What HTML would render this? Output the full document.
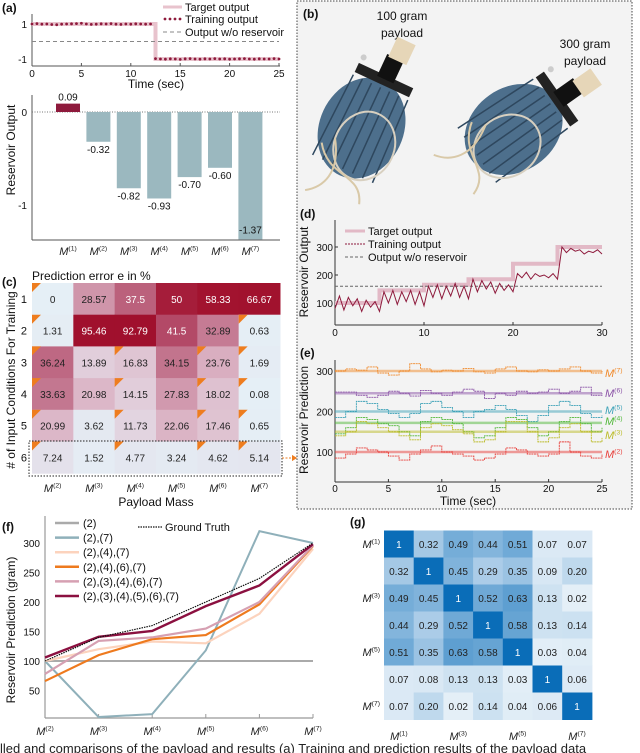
<!DOCTYPE html>
<html><head><meta charset="utf-8"><style>
html,body{margin:0;padding:0;background:#fff;}
svg{display:block;font-family:"Liberation Sans",sans-serif;}
</style></head><body>
<svg id="fig" width="640" height="753" viewBox="0 0 640 753" xmlns="http://www.w3.org/2000/svg"></svg>
<script>
// ---------- DATA ----------
const aTrainVals = [1.0,1.02,0.99,1.0,0.97,0.96,0.99,1.0,1.01,1.02,1.04,1.0,0.98,0.99,1.01,1.0,1.02,0.99,0.98,1.0,0.99,1.01,1.0,0.99,1.0,-0.98,-1.0,-1.01,-0.99,-1.0,-1.02,-0.99,-0.98,-1.0,-1.01,-0.99,-1.0,-0.98,-1.0,-0.99,-1.01,-1.0,-0.99,-0.98,-1.0,-1.01,-0.99,-1.0,-1.0,-0.98,-1.0];
const aStepTime = 12.5;
const aXTicks = [0,5,10,15,20,25];
const barCats = ["(1)","(2)","(3)","(4)","(5)","(6)","(7)"];
const barVals = [0.09,-0.32,-0.82,-0.93,-0.70,-0.60,-1.37];
const barLabels = ["0.09","-0.32","-0.82","-0.93","-0.70","-0.60","-1.37"];
const cCols = ["(2)","(3)","(4)","(5)","(6)","(7)"];
const cRows = ["1","2","3","4","5","6"];
const cVals = [
 [0,28.57,37.5,50,58.33,66.67],
 [1.31,95.46,92.79,41.5,32.89,0.63],
 [36.24,13.89,16.83,34.15,23.76,1.69],
 [33.63,20.98,14.15,27.83,18.02,0.08],
 [20.99,3.62,11.73,22.06,17.46,0.65],
 [7.24,1.52,4.77,3.24,4.62,5.14]];
const cTrain = [
 [1,0,0,0,0,0],[1,0,0,0,0,1],[1,0,1,0,1,1],[1,0,1,0,1,1],[1,0,1,0,1,1],[1,0,1,0,1,1]];
const dTargetEdges = [0,5,10,15,20,25,30];
const dTargetLevels = [100,145,165,185,240,300];
const dTrain = [80,125,75,120,90,115,70,110,85,105,70,140,100,145,95,140,105,145,95,140,90,160,120,165,115,160,125,170,120,160,115,185,140,180,150,175,135,170,145,165,140,205,190,210,185,205,195,200,190,205,185,300,280,295,285,290,275,285,280,290,275];
const dNoRes = 160;
const dXTicks = [0,10,20,30];
const dYTicks = [100,200,300];
const eNames = ["(7)","(6)","(5)","(4)","(3)","(2)"];
const eTargets = [300,245,200,172,150,100];
const eSeries = [
 [300,305,302,310,295,290,300,318,305,298,302,300,306,298,295,305,310,300,298,303,300,305,310,300,295,300],
 [248,248,240,235,240,250,245,238,252,245,240,248,255,250,232,245,240,250,245,248,255,245,250,260,240,245],
 [185,200,225,220,205,195,185,195,220,225,210,200,185,200,205,215,205,190,175,190,215,225,215,195,185,190],
 [145,160,185,180,170,165,150,140,175,185,180,170,150,135,140,160,185,180,160,140,150,175,185,170,150,160],
 [140,150,175,170,160,150,140,130,160,170,165,155,145,125,130,150,175,175,150,125,135,160,170,150,125,135],
 [85,95,110,105,100,90,80,95,105,115,100,95,90,80,85,95,110,105,95,90,95,125,100,90,85,95]];
const eXTicks = [0,5,10,15,20,25];
const eYTicks = [100,200,300];
const fCats = ["(2)","(3)","(4)","(5)","(6)","(7)"];
const fNames = ["(2)","(2),(7)","(2),(4),(7)","(2),(4),(6),(7)","(2),(3),(4),(6),(7)","(2),(3),(4),(5),(6),(7)"];
const fSeries = [
 [100,100,100,100,100,100],
 [100,5,10,118,320,300],
 [100,120,133,130,180,290],
 [66,110,137,144,196,295],
 [78,134,140,155,200,296],
 [106,141,151,193,228,298]];
const fTruth = [100,140,160,200,240,300];
const fYTicks = [50,100,150,200,250,300];
const gLabels = ["(1)","(2)","(3)","(4)","(5)","(6)","(7)"];
const gVals = [
 [1,0.32,0.49,0.44,0.51,0.07,0.07],
 [0.32,1,0.45,0.29,0.35,0.09,0.20],
 [0.49,0.45,1,0.52,0.63,0.13,0.02],
 [0.44,0.29,0.52,1,0.58,0.13,0.14],
 [0.51,0.35,0.63,0.58,1,0.03,0.04],
 [0.07,0.08,0.13,0.13,0.03,1,0.06],
 [0.07,0.20,0.02,0.14,0.04,0.06,1]];
const gText = [
 ["1","0.32","0.49","0.44","0.51","0.07","0.07"],
 ["0.32","1","0.45","0.29","0.35","0.09","0.20"],
 ["0.49","0.45","1","0.52","0.63","0.13","0.02"],
 ["0.44","0.29","0.52","1","0.58","0.13","0.14"],
 ["0.51","0.35","0.63","0.58","1","0.03","0.04"],
 ["0.07","0.08","0.13","0.13","0.03","1","0.06"],
 ["0.07","0.20","0.02","0.14","0.04","0.06","1"]];

// ---------- HELPERS ----------
const NS="http://www.w3.org/2000/svg";
const svg=document.getElementById('fig');
function mk(tag,attrs,parent){const e=document.createElementNS(NS,tag);for(const k in attrs)e.setAttribute(k,attrs[k]);(parent||svg).appendChild(e);return e;}
function txt(x,y,s,size,anchor,parent,extra){const e=mk('text',Object.assign({x:x,y:y,'font-size':size,'text-anchor':anchor||'start',fill:'#111'},extra||{}),parent);e.textContent=s;return e;}
function mlabel(x,y,sup,size,anchor,parent){const e=mk('text',{x:x,y:y,'font-size':size,'text-anchor':anchor||'middle',fill:'#222'},parent);
 const m=document.createElementNS(NS,'tspan');m.setAttribute('font-style','italic');m.textContent='M';e.appendChild(m);
 const s=document.createElementNS(NS,'tspan');s.setAttribute('dy',-size*0.4);s.setAttribute('font-size',size*0.62);s.textContent=sup;e.appendChild(s);return e;}
function lerpC(c1,c2,t){const a=[1,3,5].map(i=>parseInt(c1.substr(i,2),16)),b=[1,3,5].map(i=>parseInt(c2.substr(i,2),16));return 'rgb('+a.map((v,i)=>Math.round(v+(b[i]-v)*t)).join(',')+')';}
function scaleColor(v,stops){for(let i=0;i<stops.length-1;i++){if(v<=stops[i+1][0]){return lerpC(stops[i][1],stops[i+1][1],(v-stops[i][0])/(stops[i+1][0]-stops[i][0]));}}return stops[stops.length-1][1];}

// ---------- RIGHT PANEL BOX ----------
const box=mk('rect',{x:297,y:1,width:335,height:508,fill:'#f3f3f3',stroke:'#444','stroke-width':1,'stroke-dasharray':'1.5,1.5'});



// ---------- PANEL (a) top ----------
const gA=mk('g',{});


const xA=t=>32+t*(247/25), yA=v=>41.5-v*17.5;
txt(2,12,'(a)',12,'start',gA,{'font-weight':'bold'});
mk('line',{x1:32,y1:14,x2:32,y2:66,stroke:'#555'},gA);
mk('line',{x1:32,y1:66,x2:280,y2:66,stroke:'#555'},gA);
aXTicks.forEach(t=>{mk('line',{x1:xA(t),y1:66,x2:xA(t),y2:63,stroke:'#555'},gA);txt(xA(t),77,String(t),10,'middle',gA);});
txt(27,yA(1)+4,'1',10,'end',gA);txt(27,yA(-1)+4,'-1',10,'end',gA);
txt(156,88,'Time (sec)',12,'middle',gA);
const tgt=mk('polyline',{points:`${xA(0)},${yA(1)} ${xA(aStepTime)},${yA(1)} ${xA(aStepTime)},${yA(-1)} ${xA(25)},${yA(-1)}`,fill:'none',stroke:'#e8c3cd','stroke-width':4},gA);


const nores=mk('line',{x1:xA(0),y1:yA(0),x2:xA(25),y2:yA(0),stroke:'#888','stroke-dasharray':'4,3'},gA);


aTrainVals.forEach((v,i)=>{const d=mk('circle',{cx:xA(i*0.5),cy:yA(v),r:1.4,fill:'#8e1a3c'},gA);
 
 });
const legA=mk('g',{},gA);


mk('line',{x1:163,y1:7,x2:182,y2:7,stroke:'#e8c3cd','stroke-width':3},legA);txt(185,11,'Target output',11,'start',legA);
[165,170,175,180].forEach(x=>mk('circle',{cx:x,cy:19,r:1.4,fill:'#8e1a3c'},legA));txt(185,23,'Training output',11,'start',legA);
mk('line',{x1:163,y1:32,x2:182,y2:32,stroke:'#888','stroke-dasharray':'4,3'},legA);txt(185,36,'Output w/o reservoir',11,'start',legA);

// ---------- bar chart ----------
const gB=mk('g',{});


const yB=v=>112-v*93, xB=i=>68+i*30.4;
mk('line',{x1:32,y1:95,x2:32,y2:240,stroke:'#555'},gB);
mk('line',{x1:32,y1:240,x2:280,y2:240,stroke:'#555'},gB);
txt(27,yB(0)+4,'0',10,'end',gB);txt(27,yB(-1)+4,'-1',10,'end',gB);
mk('line',{x1:32,y1:yB(0),x2:280,y2:yB(0),stroke:'#777','stroke-dasharray':'1,1.5'},gB);
barVals.forEach((v,i)=>{const x=xB(i);const y1=Math.min(yB(v),yB(0)),h=Math.abs(yB(v)-yB(0));
 const r=mk('rect',{x:x-12,y:y1,width:24,height:h,fill:v>0?'#8e1a3c':'#9bb8bf'},gB);
 
 
 if(v>0)txt(x,y1-3,barLabels[i],10,'middle',gB);else txt(x,yB(v)+(v<-1.2?-6:11),barLabels[i],10,'middle',gB);
 mlabel(x,255,barCats[i],11,'middle',gB);});
const ylA=txt(0,0,'Reservoir Output',12,'middle',svg,{transform:'translate(15,150) rotate(-90)'});



// ---------- PANEL (c) heatmap ----------
const gC=mk('g',{});


txt(2,286,'(c)',12,'start',gC,{'font-weight':'bold'});
txt(32,280,'Prediction error e in %',12,'start',gC);
const cx0=32,cw=41.33,cy0=283,rh=31.7;
const cStops=[[0,'#e5eff6'],[6,'#e4e5ee'],[15,'#e1cbd8'],[25,'#d8aabd'],[35,'#c06f89'],[45,'#ac3555'],[52,'#a2132f'],[100,'#a0102d']];
cVals.forEach((row,r)=>row.forEach((v,c)=>{
 const cell=mk('rect',{x:cx0+c*cw,y:cy0+r*rh,width:cw+0.5,height:rh+0.5,fill:scaleColor(v,cStops)},gC);
 
 
 txt(cx0+c*cw+cw/2,cy0+r*rh+rh/2+4,String(v),10,'middle',gC,{fill:v>37?'#fff':'#222'});
 if(cTrain[r][c]){const tx=cx0+c*cw,ty=cy0+r*rh;mk('polygon',{points:`${tx},${ty} ${tx+9},${ty} ${tx},${ty+9}`,fill:'#ee7d1f'},gC);}
}));
cRows.forEach((s,r)=>txt(27,cy0+r*rh+rh/2+4,s,11,'end',gC));
cCols.forEach((s,c)=>mlabel(cx0+c*cw+cw/2,492,s,11,'middle',gC));
txt(156,506,'Payload Mass',12,'middle',gC);
const row6=mk('rect',{x:29,y:441,width:253,height:35,fill:'none',stroke:'#222','stroke-dasharray':'1.5,1.5'},gC);


mk('line',{x1:282,y1:458,x2:294,y2:458,stroke:'#ee7d1f','stroke-dasharray':'2,1.5'},gC);
mk('polygon',{points:'292,455 297,458 292,461',fill:'#ee7d1f'},gC);
const ylC=txt(0,0,'# of Input Conditions For Training',12,'middle',svg,{transform:'translate(15,380) rotate(-90)'});



// ---------- PANEL (b) photos ----------
const gPh=mk('g',{});


txt(303,18,'(b)',12,'start',gPh,{'font-weight':'bold'});
txt(402,20,'100 gram',12,'middle',gPh);txt(402,37,'payload',12,'middle',gPh);
txt(585,48,'300 gram',12,'middle',gPh);txt(585,65,'payload',12,'middle',gPh);
function robot(cx,cy,rot,g){const grp=mk('g',{transform:`translate(${cx},${cy}) rotate(${rot})`},g);
 mk('ellipse',{cx:0,cy:20,rx:42,ry:52,fill:'#4d6f8c'},grp);
 for(let k=-3;k<=3;k++)mk('line',{x1:k*10,y1:-25,x2:k*11,y2:65,stroke:'#2e475e','stroke-width':1.5},grp);
 mk('ellipse',{cx:10,cy:35,rx:30,ry:35,fill:'none',stroke:'#d8d0c0','stroke-width':2},grp);
 mk('path',{d:'M-30,50 C-10,80 20,60 30,90 M-20,40 C0,70 -10,90 -25,100',fill:'none',stroke:'#d9c9a8','stroke-width':2},grp);
 mk('rect',{x:-30,y:-38,width:60,height:10,fill:'#222'},grp);
 mk('rect',{x:-8,y:-58,width:18,height:24,fill:'#111'},grp);
 mk('rect',{x:-6,y:-78,width:20,height:22,fill:'#e6d6b8'},grp);
 mk('circle',{cx:-28,cy:-45,r:3,fill:'#ccc'},grp);}
robot(370,110,25,gPh);robot(530,118,55,gPh);

// ---------- PANEL (d) ----------
const gD=mk('g',{});


const xD=t=>335+t*(267/30), yD=v=>303-(v-100)*0.28;
txt(300,218,'(d)',12,'start',gD,{'font-weight':'bold'});
mk('line',{x1:335,y1:220,x2:335,y2:325,stroke:'#333'},gD);
mk('line',{x1:335,y1:325,x2:602,y2:325,stroke:'#333'},gD);
dXTicks.forEach(t=>{mk('line',{x1:xD(t),y1:325,x2:xD(t),y2:322,stroke:'#333'},gD);txt(xD(t),336,String(t),10,'middle',gD);});
dYTicks.forEach(v=>{mk('line',{x1:335,y1:yD(v),x2:338,y2:yD(v),stroke:'#333'},gD);txt(333,yD(v)+4,String(v),10,'end',gD);});
let tp='';dTargetLevels.forEach((v,i)=>{tp+=`${xD(dTargetEdges[i])},${yD(v)} ${xD(dTargetEdges[i+1])},${yD(v)} `;});
const dT=mk('polyline',{points:tp,fill:'none',stroke:'#e2b9c6','stroke-width':4},gD);


const dN=mk('line',{x1:xD(0),y1:yD(dNoRes),x2:xD(30),y2:yD(dNoRes),stroke:'#666','stroke-dasharray':'3,2'},gD);


const dTr=mk('polyline',{points:dTrain.map((v,i)=>`${xD(i*0.5)},${yD(v)}`).join(' '),fill:'none',stroke:'#8e1a3c','stroke-width':1},gD);


const legD=mk('g',{},gD);


mk('line',{x1:345,y1:231,x2:365,y2:231,stroke:'#e2b9c6','stroke-width':3},legD);txt(368,235,'Target output',11,'start',legD);
mk('line',{x1:345,y1:244,x2:365,y2:244,stroke:'#8e1a3c','stroke-dasharray':'2,1'},legD);txt(368,248,'Training output',11,'start',legD);
mk('line',{x1:345,y1:257,x2:365,y2:257,stroke:'#666','stroke-dasharray':'3,2'},legD);txt(368,261,'Output w/o reservoir',11,'start',legD);
const ylD=txt(0,0,'Reservoir Output',12,'middle',svg,{transform:'translate(308,272) rotate(-90)'});



// ---------- PANEL (e) ----------
const gE=mk('g',{});


const xE=t=>335+t*(267/25), yE=v=>452-(v-100)*0.405;
txt(300,357,'(e)',12,'start',gE,{'font-weight':'bold'});
mk('line',{x1:335,y1:360,x2:335,y2:482,stroke:'#333'},gE);
mk('line',{x1:335,y1:482,x2:602,y2:482,stroke:'#333'},gE);
eXTicks.forEach(t=>{mk('line',{x1:xE(t),y1:482,x2:xE(t),y2:479,stroke:'#333'},gE);txt(xE(t),492,String(t),10,'middle',gE);});
eYTicks.forEach(v=>txt(333,yE(v)+4,String(v),10,'end',gE));
const eCols=['#f08a2c','#8c55a8','#3fa3b8','#52b83a','#bcbc2a','#e8423d'];
const eLabY=[373,393,410,421,435,454];
eSeries.forEach((s,k)=>{
 const tl=mk('line',{x1:xE(0),y1:yE(eTargets[k]),x2:xE(25),y2:yE(eTargets[k]),stroke:eCols[k],'stroke-width':2.5,opacity:0.5},gE);
 
 
 let p='';s.forEach((v,i)=>{p+=`${xE(i)},${yE(v)} `;if(i<s.length-1)p+=`${xE(i+1)},${yE(v)} `;});
 const pl=mk('polyline',{points:p,fill:'none',stroke:eCols[k],'stroke-width':0.9,'stroke-dasharray':'2,0.6'},gE);
 
 
 const lb=mlabel(605,eLabY[k]+4,eNames[k],11,'start',gE);lb.setAttribute('fill',eCols[k]);
});
txt(468,505,'Time (sec)',12,'middle',gE);
mk('polygon',{points:'292,455 297,458 292,461',fill:'#ee7d1f'},gE);
const ylE=txt(0,0,'Reservoir Prediction',12,'middle',svg,{transform:'translate(308,420) rotate(-90)'});



// ---------- PANEL (f) ----------
const gF=mk('g',{});


const xF=i=>45+i*53.6, yF=v=>661-(v-100)*0.59;
txt(2,531,'(f)',12,'start',gF,{'font-weight':'bold'});
mk('line',{x1:45,y1:516,x2:45,y2:718,stroke:'#999','stroke-width':1.2},gF);
mk('line',{x1:45,y1:718,x2:313,y2:718,stroke:'#999','stroke-width':1.2},gF);
fYTicks.forEach(v=>txt(40,yF(v)+4,String(v),10,'end',gF));
fCats.forEach((s,i)=>{mk('line',{x1:xF(i),y1:718,x2:xF(i),y2:714,stroke:'#999'},gF);mlabel(xF(i),735,s,11,'middle',gF);});
const fCols=['#aaaaaa','#8fb0ba','#fcd3bd','#ee7a1e','#d6a0b2','#8b1040'];
const fW=[2,2,2.2,2.2,2.2,2.4];
fSeries.forEach((s,k)=>{const pl=mk('polyline',{points:s.map((v,i)=>`${xF(i)},${yF(v)}`).join(' '),fill:'none',stroke:fCols[k],'stroke-width':fW[k]},gF);
 
 });
const gt=mk('polyline',{points:fTruth.map((v,i)=>`${xF(i)},${yF(v)}`).join(' '),fill:'none',stroke:'#111','stroke-width':1.2,'stroke-dasharray':'1.5,1'},gF);


const legF=mk('g',{},gF);


fNames.forEach((s,k)=>{const y=523+k*14.6;mk('line',{x1:55,y1:y,x2:79,y2:y,stroke:fCols[k],'stroke-width':2.5},legF);txt(83,y+4,s,11,'start',legF);});
mk('line',{x1:138,y1:527,x2:162,y2:527,stroke:'#111','stroke-width':1.2,'stroke-dasharray':'1.5,1'},legF);txt(165,531,'Ground Truth',11,'start',legF);
const ylF=txt(0,0,'Reservoir Prediction (gram)',12,'middle',svg,{transform:'translate(15,630) rotate(-90)'});



// ---------- PANEL (g) ----------
const gG=mk('g',{});


txt(350,526,'(g)',12,'start',gG,{'font-weight':'bold'});
const gx0=384,gcw=29.7,gy0=530.5,grh=27;
const gStops=[[0,'#e8f1f8'],[0.1,'#d5e6f3'],[0.3,'#a9cbe7'],[0.5,'#72abd7'],[0.65,'#5b9dd0'],[0.99,'#2a82c4'],[1,'#0a6db8']];
gVals.forEach((row,r)=>row.forEach((v,c)=>{
 const cell=mk('rect',{x:gx0+c*gcw,y:gy0+r*grh,width:gcw+0.5,height:grh+0.5,fill:scaleColor(v,gStops)},gG);
 
 
 txt(gx0+c*gcw+gcw/2,gy0+r*grh+grh/2+4,gText[r][c],10,'middle',gG,{fill:v===1?'#fff':'#222'});
}));
[0,2,4,6].forEach(i=>{mlabel(380,gy0+i*grh+grh/2+4,gLabels[i],11,'end',gG);mlabel(gx0+i*gcw+gcw/2,740,gLabels[i],11,'middle',gG);});

// ---------- caption ----------
const cap=txt(0,753,'lled and comparisons of the payload and results (a) Training and prediction results of the payload data',13,'start',svg,{fill:'#222'});


</script>
</body></html>
